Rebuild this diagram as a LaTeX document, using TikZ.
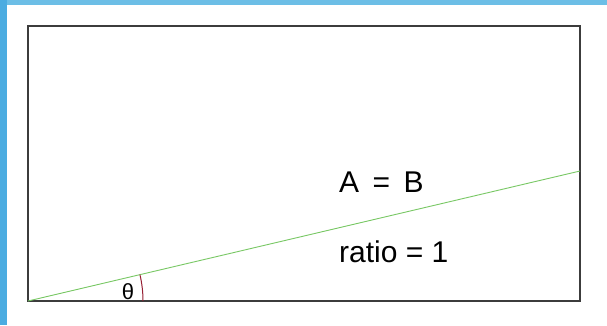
\documentclass[tikz,border=0pt]{standalone}
\usepackage{fontspec}
\setmainfont{Liberation Sans}
\definecolor{barL}{RGB}{75,172,225}
\definecolor{barT}{RGB}{108,190,230}
\definecolor{lineG}{RGB}{120,200,100}
\definecolor{arcR}{RGB}{150,30,50}
\definecolor{frameC}{RGB}{60,60,60}
\tikzset{
  frame/.style={draw=frameC, line width=1.8pt},
  ray/.style={draw=lineG, line width=0.9pt},
  anglearc/.style={draw=arcR, line width=1pt},
  lbl/.style={font=\fontsize{30}{33}\selectfont, inner sep=0pt, anchor=west},
}
\begin{document}
\begin{tikzpicture}[x=1pt,y=-1pt]
\useasboundingbox (0,0) rectangle (607,325);
\fill[white] (0,0) rectangle (607,325);
\fill[barT] (0,0) rectangle (607,5);
\fill[barL] (0,0) rectangle (7,325);
\coordinate (TL) at (28,26);
\coordinate (BR) at (580,301);
\coordinate (O) at (28,301);
\coordinate (E) at (580,171);
\draw[frame] (TL) rectangle (BR);
\draw[ray] (O) -- (E);
\draw[anglearc] (O) ++(115,0) arc[start angle=0, end angle=-13.25, radius=115];
\node[font=\fontsize{22}{24}\selectfont, inner sep=0pt] (th) at (128,292) {θ};
\node[lbl] (ab) at (339,182) {A\hspace{0.45em}=\hspace{0.45em}B};
\node[lbl] (ratio) at (339,252) {ratio = 1};
\end{tikzpicture}
\end{document}
